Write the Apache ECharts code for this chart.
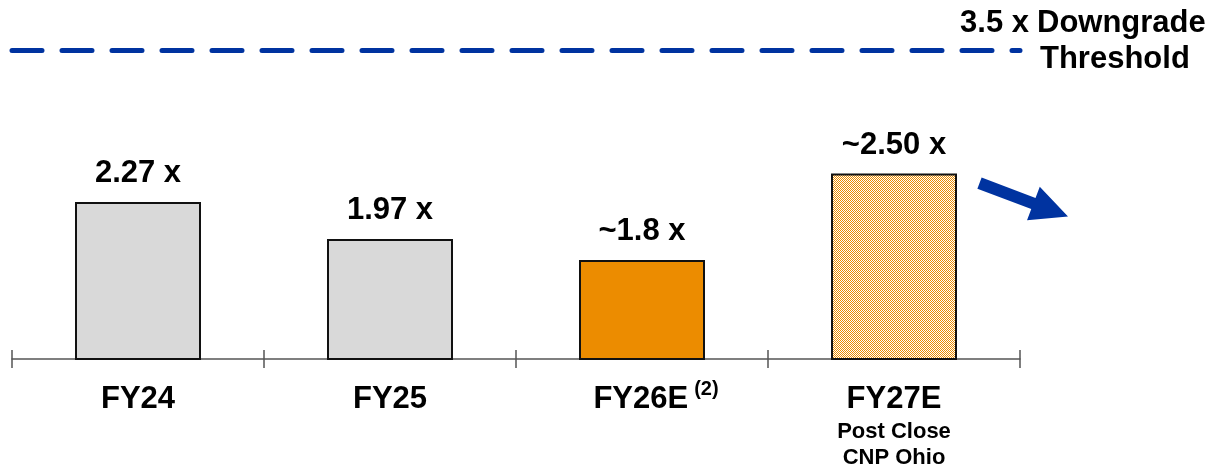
<!DOCTYPE html>
<html>
<head>
<meta charset="utf-8">
<script src="https://cdn.jsdelivr.net/npm/echarts@6/dist/echarts.min.js"></script>
<style>
  html, body { margin: 0; padding: 0; background: #ffffff; }
  #chart { width: 1214px; height: 469px; }
</style>
</head>
<body>
<div id="chart"></div>
<script>
// Leverage by fiscal year
const categories = ['FY24', 'FY25', 'FY26E', 'FY27E'];
const leverage = [2.27, 1.97, 1.8, 2.5];
const valueLabels = ['2.27 x', '1.97 x', '~1.8 x', '~2.50 x'];
const threshold = 3.5;
const thresholdLabel = '3.5 x';
const thresholdTitle = ['Downgrade', 'Threshold'];
const fy26Footnote = '(2)';
const fy27Notes = ['Post Close', 'CNP Ohio'];

const FONT = "'Liberation Sans', Arial, sans-serif";
const BLUE = '#0033A0';
const GREY = '#D9D9D9';
const ORANGE = '#EC8C00';

// Fine orange/white checker used for the projected year
function checkerPattern() {
  const c = document.createElement('canvas');
  c.width = 2; c.height = 2;
  const ctx = c.getContext('2d');
  ctx.fillStyle = '#FFFFFF';
  ctx.fillRect(0, 0, 2, 2);
  ctx.fillStyle = ORANGE;
  ctx.fillRect(0, 0, 1, 1);
  ctx.fillRect(1, 1, 1, 1);
  return c;
}

const barFills = [GREY, GREY, ORANGE, { image: checkerPattern(), repeat: 'repeat' }];

const chart = echarts.init(document.getElementById('chart'), null, { renderer: 'canvas' });

const axisLineStyle = { color: '#555555', width: 1.5 };

chart.setOption({
  animation: false,
  backgroundColor: '#ffffff',
  grid: { left: 12, right: 194, top: 50, bottom: 109, containLabel: false },
  xAxis: [
    {
      type: 'category',
      data: categories,
      position: 'bottom',
      boundaryGap: true,
      axisLine: { show: true, lineStyle: axisLineStyle },
      axisTick: { show: true, inside: false, length: 9, lineStyle: axisLineStyle },
      axisLabel: {
        margin: 20,
        interval: 0,
        color: '#000000',
        fontFamily: FONT,
        formatter: function (value, idx) {
          // footnote hangs to the right; an equal blank keeps the year centred
          if (idx === 2) return '{pad| }{main|' + value + '}{sup|' + fy26Footnote + '}';
          if (idx === 3) return '{main|' + value + '}\n' + fy27Notes.map(n => '{sub|' + n + '}').join('\n');
          return '{main|' + value + '}';
        },
        rich: {
          main: { fontSize: 31, fontWeight: 'bold', fontFamily: FONT, color: '#000', lineHeight: 40 },
          pad: { fontSize: 20, width: 28, lineHeight: 20 },
          sup: { fontSize: 20, fontWeight: 'bold', fontFamily: FONT, color: '#000', lineHeight: 20, verticalAlign: 'top', padding: [0, 0, 0, 6] },
          sub: { fontSize: 22, fontWeight: 'bold', fontFamily: FONT, color: '#000', lineHeight: 26 }
        }
      },
      splitLine: { show: false }
    },
    {
      type: 'category',
      data: categories,
      position: 'bottom',
      boundaryGap: true,
      axisLine: { show: false },
      axisTick: { show: true, inside: true, length: 9, lineStyle: axisLineStyle },
      axisLabel: { show: false },
      splitLine: { show: false }
    }
  ],
  yAxis: {
    type: 'value',
    min: 1,
    max: 3.5,
    show: false,
    splitLine: { show: false }
  },
  series: [
    {
      type: 'bar',
      xAxisIndex: 0,
      data: leverage.map((v, i) => ({
        value: v,
        itemStyle: { color: barFills[i] },
        label: { formatter: valueLabels[i] }
      })),
      barWidth: '50%',
      itemStyle: { borderColor: '#111111', borderWidth: 2 },
      label: {
        show: true,
        position: 'top',
        distance: 13,
        fontSize: 31,
        fontWeight: 'bold',
        fontFamily: FONT,
        color: '#000000'
      },
      markLine: {
        silent: true,
        symbol: 'none',
        label: { show: false },
        lineStyle: { color: BLUE, width: 5, type: [30, 20], cap: 'round' },
        data: [{ yAxis: threshold }]
      }
    }
  ]
});

// Threshold caption and trend arrow, placed from the axis scales
const lineY = chart.convertToPixel({ gridIndex: 0 }, [0, threshold])[1];
const gridRect = chart.getModel().getComponent('grid', 0).coordinateSystem.getRect();
const rightX = gridRect.x + gridRect.width;

const top27 = chart.convertToPixel({ gridIndex: 0 }, [3, leverage[3]]);
const halfBar = chart.getModel().getComponent('xAxis', 0).axis.getBandWidth() / 4;
const barRight = top27[0] + halfBar;
const tail = [barRight + 22.5, top27[1] + 9.5];
const tip = [barRight + 111, top27[1] + 43];
const dx = tip[0] - tail[0], dy = tip[1] - tail[1];
const len = Math.hypot(dx, dy);
const ux = dx / len, uy = dy / len;
const nx = -uy, ny = ux;
const shaftHalf = 6, headHalf = 18, headLen = 37;
const base = [tip[0] - ux * headLen, tip[1] - uy * headLen];
const arrowPts = [
  [tail[0] + nx * shaftHalf, tail[1] + ny * shaftHalf],
  [base[0] + nx * shaftHalf, base[1] + ny * shaftHalf],
  [base[0] + nx * headHalf, base[1] + ny * headHalf],
  tip,
  [base[0] - nx * headHalf, base[1] - ny * headHalf],
  [base[0] - nx * shaftHalf, base[1] - ny * shaftHalf],
  [tail[0] - nx * shaftHalf, tail[1] - ny * shaftHalf]
];

const captionStyle = { fontSize: 31, fontWeight: 'bold', fontFamily: FONT, fill: '#000000', textVerticalAlign: 'middle' };

chart.setOption({
  graphic: [
    { type: 'text', x: rightX + 9, y: lineY - 27, style: Object.assign({ text: thresholdLabel, textAlign: 'right' }, captionStyle) },
    { type: 'text', x: rightX + 17, y: lineY - 27, style: Object.assign({ text: thresholdTitle[0], textAlign: 'left' }, captionStyle) },
    { type: 'text', x: rightX + 20, y: lineY + 9, style: Object.assign({ text: thresholdTitle[1], textAlign: 'left' }, captionStyle) },
    { type: 'polygon', shape: { points: arrowPts }, style: { fill: BLUE } }
  ]
});
</script>
</body>
</html>
